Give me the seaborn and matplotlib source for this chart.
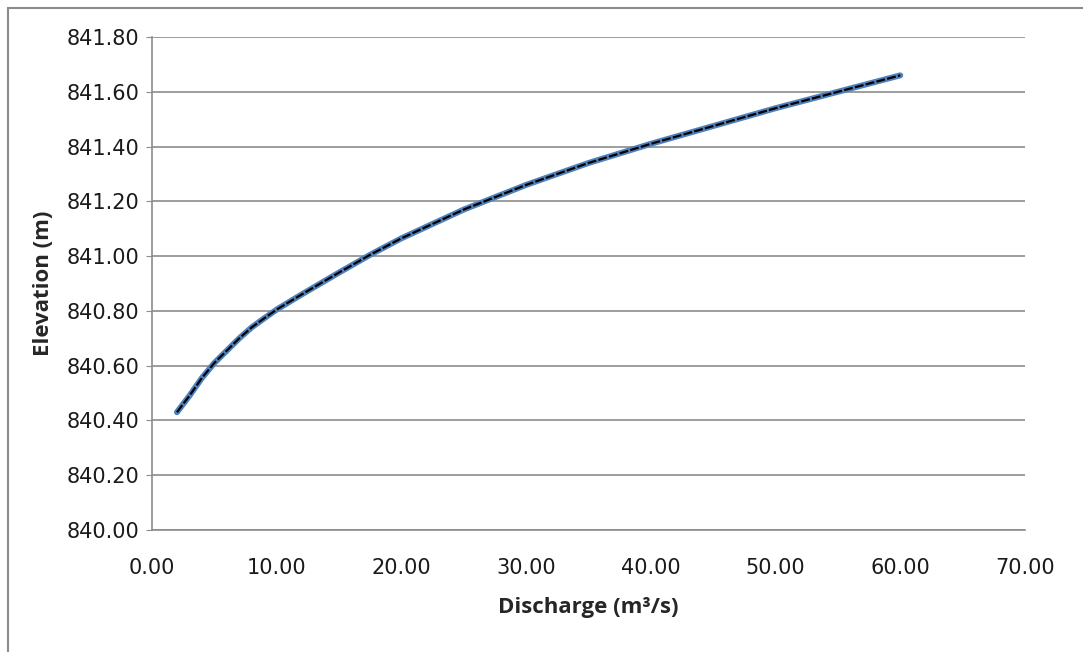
import matplotlib
matplotlib.use("Agg")
import matplotlib.pyplot as plt
import seaborn as sns
import pandas as pd
from matplotlib.lines import Line2D

# rating curve
discharge = [2, 3, 4, 5, 6, 7, 8, 9, 10, 12, 15, 17.5, 20, 25, 30, 35, 40, 45, 50, 55, 60]
elevation = [840.43, 840.49, 840.555, 840.61, 840.655, 840.70, 840.74, 840.773, 840.805,
             840.86, 840.94, 841.005, 841.065, 841.17, 841.26, 841.34, 841.41,
             841.475, 841.54, 841.60, 841.66]

df = pd.DataFrame({"Discharge": discharge, "Elevation": elevation})

sns.set_style("white")
plt.rcParams["font.family"] = ["DejaVu Sans"]

fig = plt.figure(figsize=(10.83, 6.52), dpi=100)
ax = fig.add_axes([152 / 1083, 1 - 530 / 652, (1025 - 152) / 1083, (530 - 37) / 652])

sns.lineplot(data=df, x="Discharge", y="Elevation", ax=ax, color="#4f81bd", linewidth=4.3,
             solid_capstyle="round", solid_joinstyle="round")
sns.lineplot(data=df, x="Discharge", y="Elevation", ax=ax, color="black", linewidth=1.6,
             linestyle=(0, (4, 1)))

ax.set_xlim(0, 70)
ax.set_ylim(840.0, 841.8)
ax.set_xticks([0, 10, 20, 30, 40, 50, 60, 70])
ax.set_yticks([840.0, 840.2, 840.4, 840.6, 840.8, 841.0, 841.2, 841.4, 841.6, 841.8])
ax.xaxis.set_major_formatter(matplotlib.ticker.FormatStrFormatter("%.2f"))
ax.yaxis.set_major_formatter(matplotlib.ticker.FormatStrFormatter("%.2f"))
ax.grid(axis="y", color="#8c8c8c", linewidth=1.2)
ax.set_axisbelow(True)
for s in ["top", "right"]:
    ax.spines[s].set_visible(False)
for s in ["left", "bottom"]:
    ax.spines[s].set_color("#8c8c8c")
    ax.spines[s].set_linewidth(1.2)
ax.tick_params(axis="y", length=4, color="#8c8c8c", labelsize=15, pad=5, left=True,
               labelcolor="#1a1a1a")
ax.tick_params(axis="x", length=0, labelsize=15, pad=20, bottom=True, labelcolor="#1a1a1a")

ax.set_xlabel("Discharge (m³/s)", fontsize=16, fontweight="bold", family="Open Sans",
              labelpad=14)
ax.set_ylabel("Elevation (m)", fontsize=16, fontweight="bold", family="Open Sans", labelpad=9)

# outer chart border (left and top visible)
fig.add_artist(Line2D([8 / 1083, 8 / 1083], [0, 1 - 8 / 652], color="#8c8c8c", linewidth=1.5))
fig.add_artist(Line2D([8 / 1083, 1], [1 - 8 / 652, 1 - 8 / 652], color="#8c8c8c", linewidth=1.5))

fig.savefig("out.png", dpi=100)
